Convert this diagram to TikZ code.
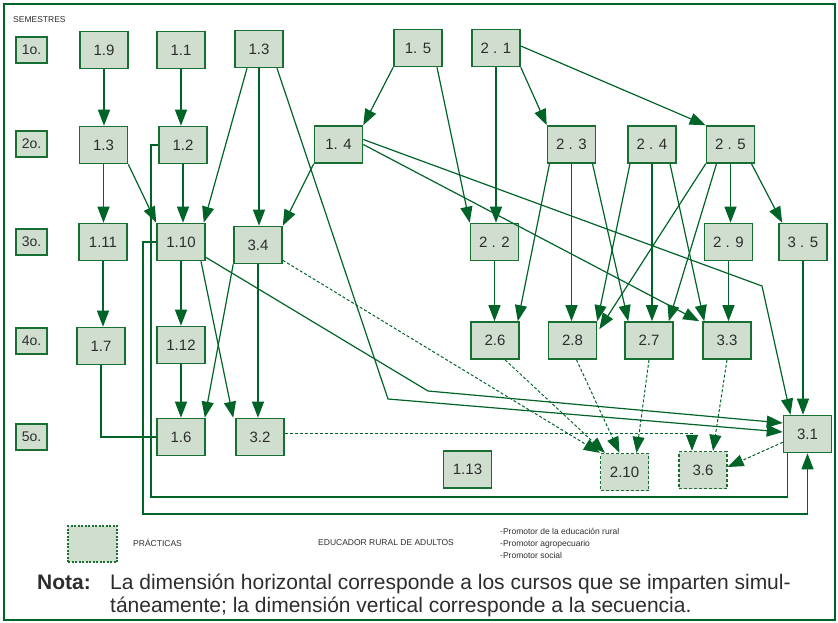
\documentclass[tikz,border=0pt]{standalone}
\usepackage{fontspec}
\setmainfont{Liberation Sans}
\usetikzlibrary{arrows.meta, positioning, calc}

\definecolor{verdeobs}{RGB}{0,100,40}
\definecolor{verdecaja}{RGB}{25,110,50}
\definecolor{fondocaja}{RGB}{208,222,208}
\definecolor{gristexto}{RGB}{45,45,45}

\begin{document}
\begin{tikzpicture}[x=1pt, y=-1pt,
    curso/.style={draw=verdecaja, fill=fondocaja, line width=1.6pt, minimum width=48pt, minimum height=37pt, inner sep=0pt, text=gristexto, font=\fontsize{15}{15}\selectfont},
    practica/.style={curso, line width=1.3pt, dash pattern=on 3pt off 2pt},
    semestre/.style={draw=verdecaja, fill=fondocaja, line width=1.6pt, minimum width=31pt, minimum height=26pt, inner sep=0pt, text=gristexto, font=\fontsize{14}{14}\selectfont},
    flecha/.style={draw=verdeobs, line width=1.2pt, -{Triangle[length=16pt,width=12pt]}},
    linea/.style={draw=verdeobs, line width=1.2pt},
    punteada/.style={flecha, line width=1pt, dash pattern=on 3pt off 2pt},
    chico/.style={font=\fontsize{8.5}{12}\selectfont, text=gristexto, anchor=west, inner sep=0pt}]
    \useasboundingbox (0,0) rectangle (838,622);

    % Marco
    \draw[verdeobs, line width=1.3pt] (4,4) rectangle (835,620);
    \node[chico] (titulo) at (13,20) {SEMESTRES};

    % Semestres
    \foreach \s/\y in {1/50, 2/144, 3/242, 4/341, 5/437}
        \node[semestre] (s\s) at (31.5,\y) {\s o.};

    % Cursos
    \foreach \n/\x/\y/\etq in {c19/104/50/1.9, c11/181/50/1.1, c13a/259/49/1.3, c15/418/48/1. 5, c21/496/48/2 . 1,
        c13b/103.5/145/1.3, c12/183/145/1.2, c14/338.5/144.5/1. 4, c23/571.5/144.5/2 . 3, c24/652/144.5/2 . 4, c25/730.5/144.5/2 . 5,
        c111/103/242/1.11, c110/181/242/1.10, c34/258/245/3.4, c22/494.5/242/2 . 2, c29/728.5/242/2 . 9, c35/803/242/3 . 5,
        c17/101/346/1.7, c112/181/345/1.12, c26/495/340.5/2.6, c28/572.5/340.5/2.8, c27/649/340.5/2.7, c33/727/340.5/3.3,
        c16/181/437/1.6, c32/260/437/3.2, c31/807.5/434/3.1, c113/467.5/469.5/1.13}
        \node[curso] (\n) at (\x,\y) {\etq};

    % Practicas
    \node[practica] (c210) at (624.5,472) {2.10};
    \node[practica] (c36) at (703,470) {3.6};

    % Codos de las lineas largas
    \coordinate (codo1) at (388,399);
    \coordinate (codo2) at (428,391);
    \coordinate (codo3) at (762,286);
    \coordinate (lazo1) at (151,497);
    \coordinate (lazo2) at (143,514);

    % Flechas verticales
    \foreach \a/\b in {c19/c13b, c11/c12, c13b/c111, c12/c110, c13a/c34, c21/c22, c22/c26, c23/c28, c24/c27,
        c25/c29, c29/c33, c35/c31, c111/c17, c110/c112, c112/c16, c34/c32}
        \draw[flecha] (\a.south) -- (\a.south |- \b.north);

    % Flechas diagonales
    \draw[flecha] (c13b.south east) -- (c110.north west);
    \draw[flecha] ([xshift=-12pt]c13a.south) -- ([xshift=-2pt]c110.north east);
    \draw[flecha] ([xshift=18pt]c13a.south) -- (codo1) -- ($(c31.west)+(0,-2)$);
    \draw[flecha] (c15.south west) -- (c14.north east);
    \draw[flecha] ([xshift=19pt]c15.south) -- (c22.north west);
    \draw[flecha] (c21.south east) -- (c23.north west);
    \draw[flecha] ($(c21.east)+(0,-2)$) -- (c25.north west);
    \draw[flecha] (c14.south west) -- (c34.north east);
    \draw[flecha] (c14.east) -- ([xshift=-3pt]c33.north west);
    \draw[flecha] ($(c14.east)+(0,-5)$) -- (codo3) -- ([xshift=-17pt]c31.north);
    \draw[flecha] ([xshift=-22pt]c23.south) -- ([xshift=-2pt]c26.north east);
    \draw[flecha] ([xshift=21pt]c23.south) -- ([xshift=4pt]c27.north west);
    \draw[flecha] ([xshift=-22pt]c24.south) -- (c28.north east);
    \draw[flecha] ([xshift=18pt]c24.south) -- ([xshift=2pt]c33.north west);
    \draw[flecha] (c25.south west) -- ($(c28.north east)+(2,8)$);
    \draw[flecha] ([xshift=-14pt]c25.south) -- ([xshift=-5pt]c27.north east);
    \draw[flecha] ([xshift=21pt]c25.south) -- ([xshift=4pt]c35.north west);
    \draw[flecha] (c34.south west) -- ([xshift=-1pt]c16.north east);
    \draw[flecha] ([xshift=20pt]c110.south) -- ([xshift=-2pt]c32.north west);
    \draw[flecha] ($(c110.south east)+(0,-4)$) -- (codo2) -- ($(c31.west)+(0,-11)$);
    \draw[linea] (c17.south) |- (c16.west);
    \draw[linea] (c12.west) -| (lazo1) -| ([xshift=-20pt]c31.south);
    \draw[flecha] (c110.west) -| (lazo2) -| (c31.south);

    % Practicas (punteadas)
    \draw[punteada] ($(c34.south east)+(0,-4)$) -- (c210.north west);
    \draw[punteada] ([xshift=10pt]c26.south) -- ([xshift=5pt]c210.north west);
    \draw[punteada] ([xshift=4pt]c28.south) -- ([xshift=-5pt]c210.north);
    \draw[punteada] (c27.south) -- ([xshift=12pt]c210.north);
    \draw[punteada] (c33.south) -- ([xshift=10pt]c36.north);
    \draw[punteada] ($(c32.east)+(0,-4)$) -| ([xshift=-11pt]c36.north);
    \draw[punteada] ($(c31.south west)+(0,-11)$) -- ($(c36.east)+(0,-3)$);

    % Leyenda
    \node[practica, minimum width=49pt, minimum height=36pt, dash pattern=on 2pt off 1.5pt] (leyenda) at (92.5,544) {};
    \node[chico] (practicas) at (133,543) {PRÁCTICAS};
    \node[chico] (educador) at (318,543) {EDUCADOR RURAL DE ADULTOS};
    \node[chico, align=left] (promotor) at (500,543) {-Promotor de la educación rural\\-Promotor agropecuario\\-Promotor social};

    % Nota
    \node[anchor=base west, inner sep=0pt, text=gristexto, font=\fontsize{21}{23}\selectfont\bfseries] (nota) at (37,589) {Nota:};
    \node[anchor=base west, inner sep=0pt, text=gristexto, font=\fontsize{21}{23}\selectfont] (notaa) at (110,589) {La dimensión horizontal corresponde a los cursos que se imparten simul-};
    \node[anchor=base west, inner sep=0pt, text=gristexto, font=\fontsize{21}{23}\selectfont] (notab) at (110,612) {táneamente; la dimensión vertical corresponde a la secuencia.};
\end{tikzpicture}
\end{document}
